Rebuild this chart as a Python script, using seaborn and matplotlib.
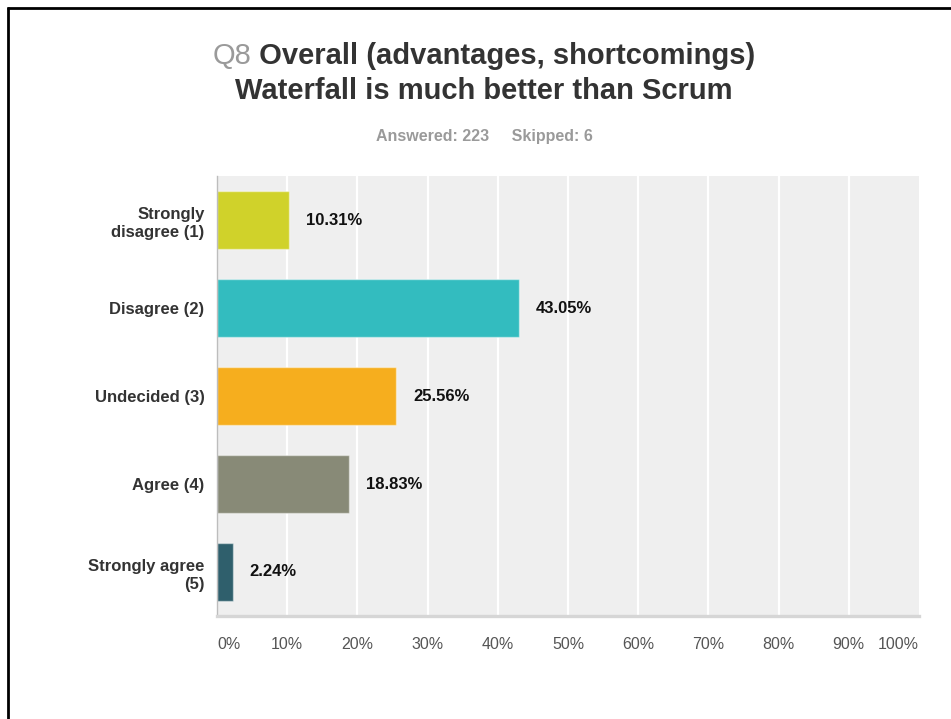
import matplotlib
matplotlib.use("Agg")
import matplotlib.pyplot as plt
import seaborn as sns
import pandas as pd
from matplotlib.lines import Line2D

# Survey responses
categories = ["Strongly\ndisagree (1)", "Disagree (2)", "Undecided (3)",
              "Agree (4)", "Strongly agree\n(5)"]
percentages = [10.31, 43.05, 25.56, 18.83, 2.24]
bar_colors = ["#D0D22A", "#33BCBF", "#F6AE1E", "#888A77", "#2F5F6C"]
tick_values = [0, 10, 20, 30, 40, 50, 60, 70, 80, 90, 100]
tick_labels = ["0%", "10%", "20%", "30%", "40%", "50%", "60%", "70%", "80%", "90%", "100%"]

question_id = "Q8"
title_line1 = "Overall (advantages, shortcomings)"
title_line2 = "Waterfall is much better than Scrum"
answered_text = "Answered: 223     Skipped: 6"

sns.set_theme(style="white")
plt.rcParams["font.family"] = ["Liberation Sans", "DejaVu Sans"]

W, H = 951, 719
fig = plt.figure(figsize=(W / 100, H / 100), dpi=100)
fig.patch.set_facecolor("white")

ax = fig.add_axes([217 / W, (H - 616) / H, 702 / W, 440 / H])
ax.set_facecolor("#EFEFEF")

df = pd.DataFrame({"category": categories, "pct": percentages})
sns.barplot(data=df, x="pct", y="category", hue="category", palette=bar_colors,
            orient="h", width=0.666, legend=False, ax=ax, saturation=1,
            edgecolor=(1, 1, 1, 0.45), linewidth=1)

ax.set_xlim(0, 100)
ax.set_ylim(4.5, -0.5)
ax.set_xlabel("")
ax.set_ylabel("")

# vertical white grid
for v in tick_values[1:-1]:
    ax.axvline(v, color="white", lw=1.6, zorder=0.5)
ax.set_axisbelow(True)

for side in ["top", "right"]:
    ax.spines[side].set_visible(False)
ax.spines["left"].set_color("#BDBDBD")
ax.spines["left"].set_linewidth(1.0)
ax.spines["bottom"].set_color("#D6D6D6")
ax.spines["bottom"].set_linewidth(2.4)

ax.tick_params(axis="both", length=0)
ax.set_xticks(tick_values)
ax.set_xticklabels(tick_labels, fontsize=11.5, color="#555555")
ax.tick_params(axis="x", pad=15)
for i, lab in enumerate(ax.get_xticklabels()):
    if i == 0:
        lab.set_horizontalalignment("left")
    elif i == len(tick_values) - 1:
        lab.set_horizontalalignment("right")
    else:
        lab.set_horizontalalignment("center")

ax.set_yticks(range(len(categories)))
ax.set_yticklabels(categories, fontsize=12, fontweight="bold", color="#333333",
                   linespacing=1.25)
ax.tick_params(axis="y", pad=9)

# value labels beside each bar
for i, v in enumerate(percentages):
    ax.annotate(f"{v:.2f}%", xy=(v, i), xytext=(17, 0), textcoords="offset pixels",
                ha="left", va="center", fontsize=12, fontweight="bold", color="#111111")

# title block
renderer = fig.canvas.get_renderer()
cx = 484 / W
t_q = fig.text(0, 1 - 56 / H, question_id, fontsize=21, color="#9A9A9A",
               ha="left", va="center")
t_1 = fig.text(0, 1 - 56 / H, " " + title_line1, fontsize=21, fontweight="bold",
               color="#333333", ha="left", va="center")
wq = t_q.get_window_extent(renderer).width
w1 = t_1.get_window_extent(renderer).width
x0 = cx * W - (wq + w1) / 2
t_q.set_x(x0 / W)
t_1.set_x((x0 + wq) / W)

fig.text(cx, 1 - 91 / H, title_line2, fontsize=21, fontweight="bold",
         color="#333333", ha="center", va="center")
fig.text(cx, 1 - 137 / H, answered_text, fontsize=11.5, fontweight="bold",
         color="#9A9A9A", ha="center", va="center")

# frame lines
fig.add_artist(Line2D([7 / W, 1], [1 - 8 / H, 1 - 8 / H], transform=fig.transFigure,
                      color="black", lw=2.0, solid_capstyle="butt"))
fig.add_artist(Line2D([8 / W, 8 / W], [1 - 7 / H, 0], transform=fig.transFigure,
                      color="black", lw=2.0, solid_capstyle="butt"))

fig.savefig("out.png", dpi=100)
